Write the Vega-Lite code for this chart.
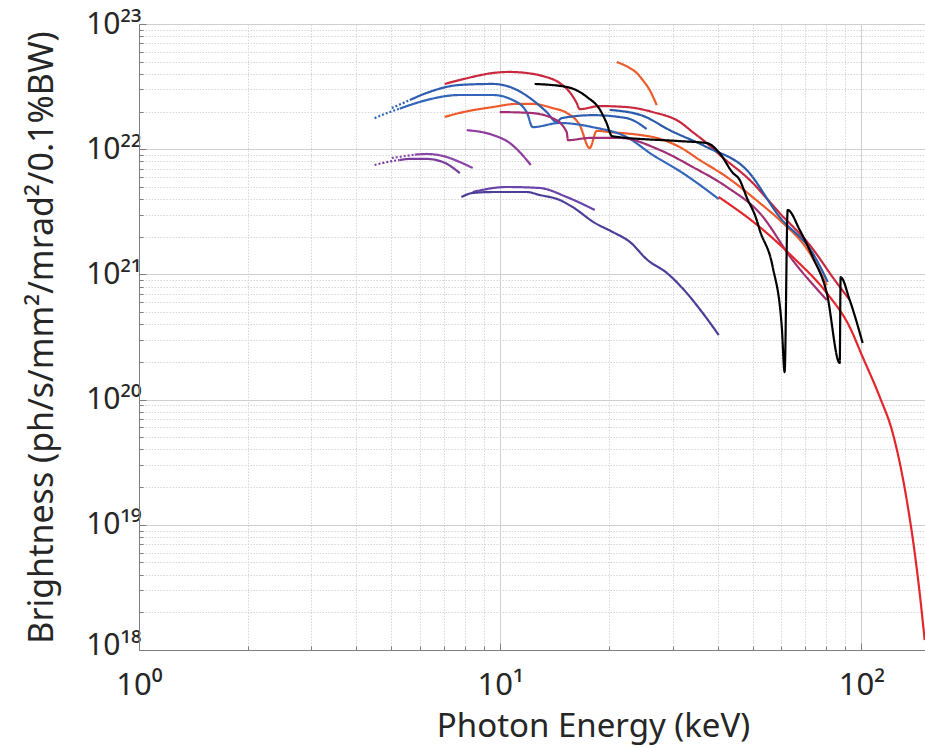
{
"$schema": "https://vega.github.io/schema/vega-lite/v6.json",
"width": 786, "height": 626,
"autosize": "none",
"padding": {"left": 139, "top": 24, "right": 0, "bottom": 97},
"background": "white",
"config": {"view": {"stroke": "#8c8c8c", "strokeWidth": 1}, "font": "Noto Sans"},
"data": {"values": [
{"s":"A","d":"dense","E":7.02,"B":3.32e22},{"s":"A","d":"dense","E":7.73,"B":3.57e22},{"s":"A","d":"dense","E":8.59,"B":3.84e22},{"s":"A","d":"dense","E":9.53,"B":4.06e22},{"s":"A","d":"dense","E":10.63,"B":4.14e22},{"s":"A","d":"dense","E":11.84,"B":4.06e22},{"s":"A","d":"dense","E":13.11,"B":3.84e22},{"s":"A","d":"dense","E":14.61,"B":3.38e22},{"s":"A","d":"dense","E":15.57,"B":2.86e22},{"s":"A","d":"dense","E":16.28,"B":2.34e22},{"s":"A","d":"dense","E":16.6,"B":2.09e22},{"s":"A","d":"dense","E":18.86,"B":2.21e22},{"s":"A","d":"dense","E":22.4,"B":2.17e22},{"s":"A","d":"dense","E":26.44,"B":1.98e22},{"s":"A","d":"dense","E":31.41,"B":1.65e22},{"s":"A","d":"dense","E":34.12,"B":1.37e22},{"s":"A","d":"dense","E":37.3,"B":1.12e22},{"s":"A","d":"dense","E":40.53,"B":9.0e21},{"s":"A","d":"dense","E":49.07,"B":5.68e21},{"s":"A","d":"dense","E":59.4,"B":3.09e21},{"s":"A","d":"dense","E":71.9,"B":1.72e21},{"s":"A","d":"dense","E":84.4,"B":9.0e20},{"s":"A","d":"dense","E":92.8,"B":6.25e20},
{"s":"O","d":"dense","E":7.02,"B":1.81e22},{"s":"O","d":"dense","E":7.73,"B":1.95e22},{"s":"O","d":"dense","E":9.53,"B":2.17e22},{"s":"O","d":"dense","E":11.11,"B":2.3e22},{"s":"O","d":"dense","E":12.3,"B":2.3e22},{"s":"O","d":"dense","E":13.97,"B":2.13e22},{"s":"O","d":"dense","E":15.28,"B":1.95e22},{"s":"O","d":"dense","E":16.6,"B":1.56e22},{"s":"O","d":"dense","E":17.69,"B":1.02e22},{"s":"O","d":"dense","E":18.5,"B":1.4e22},{"s":"O","d":"dense","E":20.1,"B":1.37e22},{"s":"O","d":"dense","E":24.34,"B":1.3e22},{"s":"O","d":"dense","E":27.12,"B":1.23e22},{"s":"O","d":"dense","E":31.41,"B":1.04e22},{"s":"O","d":"dense","E":35.67,"B":8.2e21},{"s":"O","d":"dense","E":42.38,"B":6.0e21},{"s":"O","d":"dense","E":52.3,"B":3.72e21},{"s":"O","d":"dense","E":59.4,"B":2.72e21},{"s":"O","d":"dense","E":71.9,"B":1.48e21},{"s":"O","d":"dense","E":80.2,"B":8.2e20},
{"s":"O2","d":"dense","E":21.02,"B":4.97e22},{"s":"O2","d":"dense","E":22.84,"B":4.45e22},{"s":"O2","d":"dense","E":23.88,"B":4.06e22},{"s":"O2","d":"dense","E":24.8,"B":3.57e22},{"s":"O2","d":"dense","E":25.93,"B":2.97e22},{"s":"O2","d":"dense","E":27.12,"B":2.25e22},
{"s":"U","d":"sparse","E":5.01,"B":2.13e22},{"s":"U","d":"sparse","E":5.62,"B":2.47e22},
{"s":"U","d":"dense","E":5.62,"B":2.47e22},{"s":"U","d":"dense","E":6.25,"B":2.81e22},{"s":"U","d":"dense","E":7.73,"B":3.26e22},{"s":"U","d":"dense","E":9.53,"B":3.32e22},{"s":"U","d":"dense","E":10.83,"B":3.08e22},{"s":"U","d":"dense","E":12.3,"B":2.47e22},{"s":"U","d":"dense","E":13.45,"B":1.98e22},{"s":"U","d":"dense","E":14.33,"B":1.65e22},{"s":"U","d":"dense","E":14.8,"B":1.77e22},{"s":"U","d":"dense","E":18.04,"B":1.87e22},{"s":"U","d":"dense","E":22.4,"B":1.77e22},{"s":"U","d":"dense","E":25.44,"B":1.45e22},
{"s":"L","d":"sparse","E":4.49,"B":1.77e22},{"s":"L","d":"sparse","E":5.04,"B":2.02e22},{"s":"L","d":"sparse","E":5.27,"B":2.11e22},
{"s":"L","d":"dense","E":5.27,"B":2.11e22},{"s":"L","d":"dense","E":5.62,"B":2.25e22},{"s":"L","d":"dense","E":6.26,"B":2.47e22},{"s":"L","d":"dense","E":7.73,"B":2.71e22},{"s":"L","d":"dense","E":9.53,"B":2.71e22},{"s":"L","d":"dense","E":10.83,"B":2.47e22},{"s":"L","d":"dense","E":11.84,"B":1.98e22},{"s":"L","d":"dense","E":12.3,"B":1.5e22},{"s":"L","d":"dense","E":14.61,"B":1.62e22},{"s":"L","d":"dense","E":18.04,"B":1.5e22},{"s":"L","d":"dense","E":22.4,"B":1.25e22},{"s":"L","d":"dense","E":26.44,"B":9.0e21},{"s":"L","d":"dense","E":32.02,"B":6.45e21},{"s":"L","d":"dense","E":40.27,"B":4.0e21},
{"s":"M","d":"dense","E":20.1,"B":2.06e22},{"s":"M","d":"dense","E":24.8,"B":1.85e22},{"s":"M","d":"dense","E":29.46,"B":1.42e22},{"s":"M","d":"dense","E":37.3,"B":1.04e22},{"s":"M","d":"dense","E":48.14,"B":6.82e21},{"s":"M","d":"dense","E":59.4,"B":2.87e21},{"s":"M","d":"dense","E":73.3,"B":1.48e21},{"s":"M","d":"dense","E":80.7,"B":8.7e20},
{"s":"P","d":"dense","E":9.97,"B":1.98e22},{"s":"P","d":"dense","E":12.07,"B":1.95e22},{"s":"P","d":"dense","E":13.97,"B":1.77e22},{"s":"P","d":"dense","E":15.28,"B":1.37e22},{"s":"P","d":"dense","E":15.4,"B":1.18e22},{"s":"P","d":"dense","E":17.69,"B":1.23e22},{"s":"P","d":"dense","E":21.42,"B":1.23e22},{"s":"P","d":"dense","E":27.65,"B":9.86e21},{"s":"P","d":"dense","E":34.12,"B":7.21e21},{"s":"P","d":"dense","E":42.38,"B":5.0e21},{"s":"P","d":"dense","E":52.3,"B":3.09e21},{"s":"P","d":"dense","E":64.5,"B":1.3e21},{"s":"P","d":"dense","E":80.2,"B":6.25e20},
{"s":"Q","d":"dense","E":8.08,"B":1.42e22},{"s":"Q","d":"dense","E":9.53,"B":1.3e22},{"s":"Q","d":"dense","E":10.63,"B":1.12e22},{"s":"Q","d":"dense","E":11.84,"B":8.2e21},{"s":"Q","d":"dense","E":12.15,"B":7.48e21},
{"s":"R3","d":"sparse","E":5.01,"B":8.51e21},{"s":"R3","d":"sparse","E":5.8,"B":9.05e21},
{"s":"R3","d":"dense","E":5.8,"B":9.05e21},{"s":"R3","d":"dense","E":6.26,"B":9.16e21},{"s":"R3","d":"dense","E":6.94,"B":8.83e21},{"s":"R3","d":"dense","E":7.73,"B":7.9e21},{"s":"R3","d":"dense","E":8.39,"B":7.08e21},
{"s":"R4","d":"sparse","E":4.49,"B":7.48e21},{"s":"R4","d":"sparse","E":5.04,"B":8.05e21},{"s":"R4","d":"sparse","E":5.27,"B":8.2e21},
{"s":"R4","d":"dense","E":5.27,"B":8.2e21},{"s":"R4","d":"dense","E":5.62,"B":8.36e21},{"s":"R4","d":"dense","E":6.26,"B":8.36e21},{"s":"R4","d":"dense","E":6.94,"B":7.9e21},{"s":"R4","d":"dense","E":7.73,"B":6.45e21},
{"s":"V","d":"dense","E":8.39,"B":4.55e21},{"s":"V","d":"dense","E":10.42,"B":4.99e21},{"s":"V","d":"dense","E":12.86,"B":4.9e21},{"s":"V","d":"dense","E":15.28,"B":4.15e21},{"s":"V","d":"dense","E":18.27,"B":3.27e21},
{"s":"W","d":"dense","E":7.81,"B":4.15e21},{"s":"W","d":"dense","E":8.39,"B":4.47e21},{"s":"W","d":"dense","E":9.53,"B":4.55e21},{"s":"W","d":"dense","E":11.84,"B":4.55e21},{"s":"W","d":"dense","E":12.86,"B":4.31e21},{"s":"W","d":"dense","E":14.61,"B":3.93e21},{"s":"W","d":"dense","E":15.87,"B":3.45e21},{"s":"W","d":"dense","E":18.27,"B":2.58e21},{"s":"W","d":"dense","E":20.49,"B":2.18e21},{"s":"W","d":"dense","E":22.84,"B":1.82e21},{"s":"W","d":"dense","E":25.6,"B":1.3e21},{"s":"W","d":"dense","E":28.9,"B":1.03e21},{"s":"W","d":"dense","E":32.84,"B":7.1e20},{"s":"W","d":"dense","E":36.36,"B":4.92e20},{"s":"W","d":"dense","E":40.27,"B":3.28e20},
{"s":"Z","d":"dense","E":40.27,"B":4.15e21},{"s":"Z","d":"dense","E":52.3,"B":2.39e21},{"s":"Z","d":"dense","E":64.5,"B":1.38e21},{"s":"Z","d":"dense","E":80.2,"B":7.1e20},{"s":"Z","d":"dense","E":92.8,"B":3.8e20},{"s":"Z","d":"dense","E":100.8,"B":2.19e20},{"s":"Z","d":"dense","E":112.4,"B":1.05e20},{"s":"Z","d":"dense","E":122.1,"B":5.41e19},{"s":"Z","d":"dense","E":133.5,"B":1.58e19},{"s":"Z","d":"dense","E":140.5,"B":5.96e18},{"s":"Z","d":"dense","E":145,"B":2.85e18},{"s":"Z","d":"dense","E":149.7,"B":1.2e18},
{"s":"K","d":"dense","E":12.46,"B":3.32e22},{"s":"K","d":"dense","E":15.3,"B":3.14e22},{"s":"K","d":"dense","E":17.4,"B":2.61e22},{"s":"K","d":"dense","E":18.9,"B":2.06e22},{"s":"K","d":"dense","E":19.7,"B":1.62e22},{"s":"K","d":"dense","E":20.4,"B":1.27e22},{"s":"K","d":"dense","E":31.4,"B":1.16e22},{"s":"K","d":"dense","E":37.3,"B":1.12e22},{"s":"K","d":"dense","E":40.5,"B":9.3e21},{"s":"K","d":"dense","E":44.0,"B":6.5e21},{"s":"K","d":"dense","E":46.0,"B":5.7e21},{"s":"K","d":"dense","E":48.1,"B":4.15e21},{"s":"K","d":"dense","E":51.3,"B":2.72e21},{"s":"K","d":"dense","E":52.3,"B":2.26e21},{"s":"K","d":"dense","E":56.8,"B":1.15e21},{"s":"K","d":"dense","E":60.2,"B":3.8e20},{"s":"K","d":"dense","E":61.3,"B":1.66e20},{"s":"K","d":"dense","E":62.5,"B":3.27e21},{"s":"K","d":"dense","E":67.5,"B":2.26e21},{"s":"K","d":"dense","E":73.3,"B":1.38e21},{"s":"K","d":"dense","E":80.2,"B":7.1e20},{"s":"K","d":"dense","E":87.1,"B":1.96e20},{"s":"K","d":"dense","E":87.6,"B":9.5e20},{"s":"K","d":"dense","E":92.8,"B":6.25e20},{"s":"K","d":"dense","E":100.8,"B":2.83e20}
]},
"mark": {"type": "line", "strokeWidth": 2.2, "clip": true, "interpolate": "monotone"},
"encoding": {
 "x": {"field": "E", "type": "quantitative",
  "scale": {"type": "log", "domain": [1, 150], "nice": false},
  "axis": {"values": [1,2,3,4,5,6,7,8,9,10,20,30,40,50,60,70,80,90,100],
   "labelExpr": "(round(log(datum.value)/LN10*1000) % 1000 == 0) ? '10' + substring('⁰¹²³⁴⁵⁶⁷⁸⁹', round(log(datum.value)/LN10), round(log(datum.value)/LN10)+1) : ''",
   "labelOverlap": false, "labelFlush": false, "labelFont": "Noto Sans", "labelFontSize": 31, "labelColor": "#262626", "labelPadding": 27,
   "title": "Photon Energy (keV)", "titleFont": "Noto Sans", "titleFontSize": 33, "titleFontWeight": "normal", "titleColor": "#262626", "titleX": 454, "titleY": 86, "titleBaseline": "alphabetic",
   "domainColor": "#7f7f7f", "tickColor": "#7f7f7f",
   "tickSize": {"condition": {"test": "round(log(datum.value)/LN10*1000) % 1000 == 0", "value": -7}, "value": -4},
   "grid": true,
   "gridColor": {"condition": {"test": "round(log(datum.value)/LN10*1000) % 1000 == 0", "value": "#cfcfcf"}, "value": "#d6d6d6"},
   "gridDash": {"condition": {"test": "round(log(datum.value)/LN10*1000) % 1000 == 0", "value": []}, "value": [1.5, 1.5]}}},
 "y": {"field": "B", "type": "quantitative",
  "scale": {"type": "log", "domain": [1e18, 1e23], "nice": false},
  "axis": {"values": [1e18,2e18,3e18,4e18,5e18,6e18,7e18,8e18,9e18,1e19,2e19,3e19,4e19,5e19,6e19,7e19,8e19,9e19,1e20,2e20,3e20,4e20,5e20,6e20,7e20,8e20,9e20,1e21,2e21,3e21,4e21,5e21,6e21,7e21,8e21,9e21,1e22,2e22,3e22,4e22,5e22,6e22,7e22,8e22,9e22,1e23],
   "labelExpr": "(round(log(datum.value)/LN10*1000) % 1000 == 0) ? '10' + substring('⁰¹²³⁴⁵⁶⁷⁸⁹', floor(round(log(datum.value)/LN10)/10), floor(round(log(datum.value)/LN10)/10)+1) + substring('⁰¹²³⁴⁵⁶⁷⁸⁹', round(log(datum.value)/LN10) % 10, round(log(datum.value)/LN10) % 10 + 1) : ''",
   "labelOverlap": false, "labelFlush": false, "labelFont": "Noto Sans", "labelFontSize": 30, "labelColor": "#262626", "labelPadding": 5, "labelBaseline": "middle",
   "labelOffset": {"condition": {"test": "datum.value < 1.5e18", "value": -5}, "value": 0},
   "title": "Brightness (ph/s/mm²/mrad²/0.1%BW)", "titleFont": "Noto Sans", "titleFontSize": 34, "titleFontWeight": "normal", "titleColor": "#262626", "titleX": -97, "titleY": 313, "titleAngle": -90, "titleAlign": "center", "titleBaseline": "middle",
   "domainColor": "#7f7f7f", "tickColor": "#7f7f7f",
   "tickSize": {"condition": {"test": "round(log(datum.value)/LN10*1000) % 1000 == 0", "value": -7}, "value": -4},
   "grid": true,
   "gridColor": {"condition": {"test": "round(log(datum.value)/LN10*1000) % 1000 == 0", "value": "#cfcfcf"}, "value": "#d6d6d6"},
   "gridDash": {"condition": {"test": "round(log(datum.value)/LN10*1000) % 1000 == 0", "value": []}, "value": [1.5, 1.5]}}},
 "color": {"field": "s", "type": "nominal", "legend": null,
  "scale": {"domain": ["A","O","O2","U","L","M","P","Q","R3","R4","V","W","Z","K"],
   "range": ["#c9283e","#ee5b2c","#ee5b2c","#2f5db0","#3366bb","#2a5aa8","#a12f75","#8e3c9e","#8a46a8","#7a3d9e","#6a44a8","#4b3e98","#e3262b","#000000"]}},
 "strokeDash": {"field": "d", "type": "nominal", "legend": null,
  "scale": {"domain": ["dense","sparse"], "range": [[1,0],[2,2]]}},
 "order": {"value": null}
}
}
